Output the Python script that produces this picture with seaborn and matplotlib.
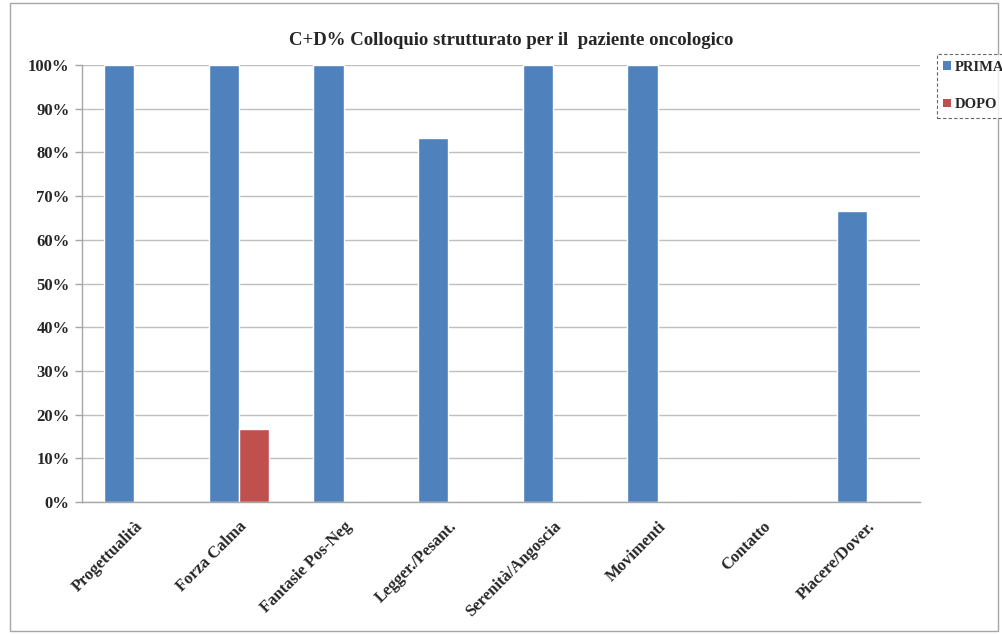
import numpy as np
import pandas as pd
import seaborn as sns
import matplotlib.pyplot as plt
from matplotlib.patches import Patch, Rectangle

# Data
categories = ['Progettualità', 'Forza Calma', 'Fantasie Pos-Neg', 'Legger./Pesant.',
              'Serenità/Angoscia', 'Movimenti', 'Contatto', 'Piacere/Dover.']
prima = [100, 100, 100, 83.3, 100, 100, 0, 66.7]
dopo = [0, 16.7, 0, 0, 0, 0, 0, 0]
series = ['PRIMA', 'DOPO']
colors = ['#4F81BD', '#C0504D']
yticks = [0, 10, 20, 30, 40, 50, 60, 70, 80, 90, 100]

df = pd.DataFrame({
    'cat': categories * 2,
    'val': prima + dopo,
    'serie': ['PRIMA'] * len(categories) + ['DOPO'] * len(categories),
})

sns.set_style('white')
plt.rcParams['font.family'] = ['Liberation Serif', 'DejaVu Serif']
plt.rcParams['font.weight'] = 'bold'

fig = plt.figure(figsize=(10.03, 6.35), dpi=100)
ax = fig.add_axes([0.0818, 0.2094, 0.835, 0.6882])

sns.barplot(ax=ax, data=df, x='cat', y='val', hue='serie', order=categories,
            hue_order=series, palette=colors, width=0.58, saturation=1,
            errorbar=None, legend=False)

ax.set_ylim(0, 100)
ax.set_xlim(-0.5, len(categories) - 0.5)
ax.set_yticks(yticks)
ax.set_yticklabels([f'{t}%' for t in yticks], fontsize=12, fontweight='bold')
ax.yaxis.grid(True, color='#BFBFBF', linewidth=1)
ax.set_axisbelow(True)

# category labels at centres, tick marks at the group boundaries
ax.set_xticks(range(len(categories)))
ax.set_xticklabels(categories, rotation=45, ha='right', rotation_mode='anchor',
                   fontsize=12, fontweight='bold')
ax.set_xticks(np.arange(-0.5, len(categories), 1), minor=True)
ax.tick_params(axis='x', which='major', length=0, pad=12)
ax.tick_params(axis='x', which='minor', length=5, color='#A6A6A6', width=1)
ax.tick_params(axis='y', length=5, color='#A6A6A6', width=1, left=True, pad=4)
ax.set_xlabel('')
ax.set_ylabel('')

for s in ['top', 'right']:
    ax.spines[s].set_visible(False)
for s in ['left', 'bottom']:
    ax.spines[s].set_color('#A6A6A6')
    ax.spines[s].set_linewidth(1)

fig.text(0.51, 0.937, 'C+D% Colloquio strutturato per il  paziente oncologico',
         ha='center', va='center', fontsize=13.5, fontweight='bold')

handles = [Patch(facecolor=c, edgecolor='none') for c in colors]
leg = fig.legend(handles, series, loc='upper left', bbox_to_anchor=(0.934, 0.915),
                 prop={'family': 'Liberation Serif', 'weight': 'bold', 'size': 10.5},
                 handlelength=0.5, handleheight=0.5, handletextpad=0.25,
                 borderpad=0.45, borderaxespad=0.0, labelspacing=1.7,
                 fancybox=False, frameon=True)
leg.get_frame().set_linestyle((0, (3, 2)))
leg.get_frame().set_edgecolor('#404040')
leg.get_frame().set_linewidth(0.8)

# outer frame of the chart
fig.patches.append(Rectangle((0.01, 0.006), 0.985, 0.99, transform=fig.transFigure,
                             fill=False, edgecolor='#A6A6A6', linewidth=1))

fig.savefig('out.png', dpi=100)
